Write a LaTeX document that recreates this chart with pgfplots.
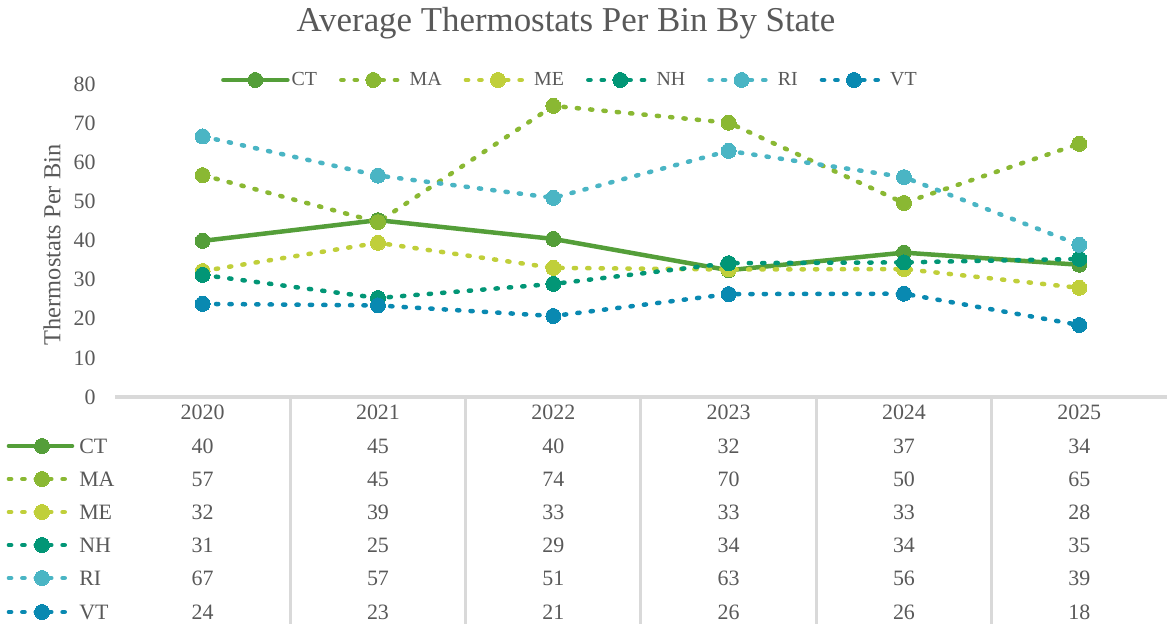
\documentclass[border=0pt]{standalone}
\usepackage{fontspec}
\setmainfont{Liberation Serif}
\usepackage{pgfplots}
\usepackage{pgfplotstable}
\pgfplotsset{compat=1.18}
\definecolor{cCT}{HTML}{549E39}
\definecolor{cMA}{HTML}{8AB833}
\definecolor{cME}{HTML}{C0CF3A}
\definecolor{cNH}{HTML}{029676}
\definecolor{cRI}{HTML}{4AB5C4}
\definecolor{cVT}{HTML}{0989B1}
\definecolor{txt}{HTML}{595959}
\definecolor{rule}{HTML}{D9D9D9}
\pgfplotstableread{
x CT MA ME NH RI VT
0 39.9 56.7 32.2 31.2 66.6 23.8
1 45.2 44.7 39.4 25.3 56.6 23.4
2 40.4 74.4 33.0 28.9 50.9 20.7
3 32.4 70.1 32.6 34.2 62.9 26.3
4 36.9 49.6 32.7 34.4 56.2 26.4
5 33.8 64.7 27.9 35.3 38.9 18.4
}\data
\pgfplotsset{
  dotsty/.style={color=#1, line width=4.5bp, line cap=round, dash pattern=on 2.2bp off 11.2bp,
    mark=*, mark size=7.5bp, mark options={solid, fill=#1, draw=#1, line width=0bp}},
  solsty/.style={color=#1, line width=4.5bp, line cap=round, solid,
    mark=*, mark size=7.5bp, mark options={solid, fill=#1, draw=#1, line width=0bp}},
}
\newcommand{\tf}{\fontsize{22}{26}\selectfont}
\begin{document}
\begin{tikzpicture}
\path[use as bounding box] (0bp,0bp) rectangle (1167bp,624bp);
\node[text=txt, font=\fontsize{35}{40}\selectfont] at (566bp,601bp) {Average Thermostats Per Bin By State};
\begin{axis}[
  at={(115bp,227bp)}, anchor=south west,
  scale only axis, width=1052bp, height=313bp,
  xmin=-0.5, xmax=5.5, ymin=0, ymax=80,
  separate axis lines,
  axis x line*=bottom, axis y line*=left,
  x axis line style={draw=rule, line width=3.5bp, -},
  y axis line style={draw=none},
  xtick=\empty,
  ytick={0,10,...,80},
  major tick length=0pt,
  /pgf/number format/assume math mode=true,
  yticklabel style={text=txt, font=\tf, anchor=east, xshift=-16bp},
  ylabel={Thermostats Per Bin},
  every axis y label/.style={at={(rel axis cs:0,0.486)}, xshift=-63bp, rotate=90, anchor=center, text=txt, font=\fontsize{24.5}{28}\selectfont},
  clip=false,
  legend columns=6,
  legend style={at={(0.4325,1.0128)}, anchor=center, draw=none, fill=none,
    font=\fontsize{20}{24}\selectfont, text=txt,
    /tikz/every even column/.append style={column sep=20bp}},
  legend image code/.code={\draw[mark repeat=2,mark phase=2,#1] plot coordinates {(0bp,0bp) (32bp,0bp) (64bp,0bp)};},
]
\addplot[solsty=cCT] table[x=x,y=CT]{\data}; \addlegendentry{CT}
\addplot[dotsty=cMA] table[x=x,y=MA]{\data}; \addlegendentry{MA}
\addplot[dotsty=cME] table[x=x,y=ME]{\data}; \addlegendentry{ME}
\addplot[dotsty=cNH] table[x=x,y=NH]{\data}; \addlegendentry{NH}
\addplot[dotsty=cRI] table[x=x,y=RI]{\data}; \addlegendentry{RI}
\addplot[dotsty=cVT] table[x=x,y=VT]{\data}; \addlegendentry{VT}
\end{axis}
\begin{axis}[
  at={(115bp,0bp)}, anchor=south west,
  scale only axis, width=1052bp, height=227bp,
  xmin=-0.5, xmax=5.5, ymin=0, ymax=227,
  hide axis, clip=false,
  /pgf/number format/assume math mode=true,
  every node near coord/.style={anchor=center, text=txt, font=\tf},
]
% column rules
\addplot[rule, line width=3bp] coordinates {(0.5,227) (0.5,0)};
\addplot[rule, line width=3bp] coordinates {(1.5,227) (1.5,0)};
\addplot[rule, line width=3bp] coordinates {(2.5,227) (2.5,0)};
\addplot[rule, line width=3bp] coordinates {(3.5,227) (3.5,0)};
\addplot[rule, line width=3bp] coordinates {(4.5,227) (4.5,0)};
% header
\addplot[draw=none, mark=none, nodes near coords, point meta=explicit symbolic]
  coordinates {(0,212)[2020] (1,212)[2021] (2,212)[2022] (3,212)[2023] (4,212)[2024] (5,212)[2025]};
% values
\addplot[draw=none, mark=none, nodes near coords={\pgfmathprintnumber[fixed,precision=0]{\pgfplotspointmeta}}, point meta=explicit] table[x=x, y expr=178, meta=CT]{\data};
\addplot[draw=none, mark=none, nodes near coords={\pgfmathprintnumber[fixed,precision=0]{\pgfplotspointmeta}}, point meta=explicit] table[x=x, y expr=145, meta=MA]{\data};
\addplot[draw=none, mark=none, nodes near coords={\pgfmathprintnumber[fixed,precision=0]{\pgfplotspointmeta}}, point meta=explicit] table[x=x, y expr=112, meta=ME]{\data};
\addplot[draw=none, mark=none, nodes near coords={\pgfmathprintnumber[fixed,precision=0]{\pgfplotspointmeta}}, point meta=explicit] table[x=x, y expr=79, meta=NH]{\data};
\addplot[draw=none, mark=none, nodes near coords={\pgfmathprintnumber[fixed,precision=0]{\pgfplotspointmeta}}, point meta=explicit] table[x=x, y expr=46, meta=RI]{\data};
\addplot[draw=none, mark=none, nodes near coords={\pgfmathprintnumber[fixed,precision=0]{\pgfplotspointmeta}}, point meta=explicit] table[x=x, y expr=12, meta=VT]{\data};
% row keys
\addplot[solsty=cCT, mark repeat=2, mark phase=2] coordinates {(-1.105,178) (-0.916,178) (-0.745,178)};
\addplot[dotsty=cMA, mark repeat=2, mark phase=2] coordinates {(-1.105,145) (-0.916,145) (-0.745,145)};
\addplot[dotsty=cME, mark repeat=2, mark phase=2] coordinates {(-1.105,112) (-0.916,112) (-0.745,112)};
\addplot[dotsty=cNH, mark repeat=2, mark phase=2] coordinates {(-1.105,79) (-0.916,79) (-0.745,79)};
\addplot[dotsty=cRI, mark repeat=2, mark phase=2] coordinates {(-1.105,46) (-0.916,46) (-0.745,46)};
\addplot[dotsty=cVT, mark repeat=2, mark phase=2] coordinates {(-1.105,12) (-0.916,12) (-0.745,12)};
\node[anchor=west, text=txt, font=\tf, inner sep=0pt] at (axis cs:-0.705,178) {CT};
\node[anchor=west, text=txt, font=\tf, inner sep=0pt] at (axis cs:-0.705,145) {MA};
\node[anchor=west, text=txt, font=\tf, inner sep=0pt] at (axis cs:-0.705,112) {ME};
\node[anchor=west, text=txt, font=\tf, inner sep=0pt] at (axis cs:-0.705,79) {NH};
\node[anchor=west, text=txt, font=\tf, inner sep=0pt] at (axis cs:-0.705,46) {RI};
\node[anchor=west, text=txt, font=\tf, inner sep=0pt] at (axis cs:-0.705,12) {VT};
\end{axis}
\end{tikzpicture}
\end{document}
